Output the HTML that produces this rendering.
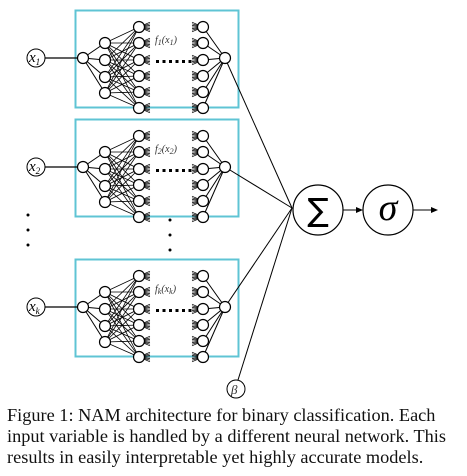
<!DOCTYPE html>
<html><head><meta charset="utf-8"><style>
body{margin:0;background:#fff;width:467px;height:476px;overflow:hidden}
svg{position:absolute;left:0;top:0}
.cap{position:absolute;left:7px;font-family:"Liberation Serif",serif;font-size:18.3px;color:#111;white-space:nowrap}
</style></head><body>
<svg id="s" width="467" height="476" xmlns="http://www.w3.org/2000/svg"></svg>
<div class="cap" style="top:405px">Figure 1: NAM architecture for binary classification. Each</div>
<div class="cap" style="top:426px">input variable is handled by a different neural network. This</div>
<div class="cap" style="top:447px">results in easily interpretable yet highly accurate models.</div>
<script>
var s=document.getElementById('s'),h='';
function L(a,b,c,d,w){h+='<line x1="'+a+'" y1="'+b+'" x2="'+c+'" y2="'+d+'" stroke="#000" stroke-width="'+(w||1)+'"/>';}
function C(x,y,r,w){h+='<circle cx="'+x+'" cy="'+y+'" r="'+r+'" fill="#fff" stroke="#000" stroke-width="'+(w||1.2)+'"/>';}
function T(x,y,t,sz,st){h+='<text x="'+x+'" y="'+y+'" font-family="Liberation Serif,serif" font-style="italic" font-size="'+sz+'" '+(st||'')+'>'+t+'</text>';}
var blocks=[[10,'f<tspan font-size="8" dy="2">1</tspan><tspan dy="-2">(x</tspan><tspan font-size="8" dy="2">1</tspan><tspan dy="-2">)</tspan>','1'],[119,'f<tspan font-size="8" dy="2">2</tspan><tspan dy="-2">(x</tspan><tspan font-size="8" dy="2">2</tspan><tspan dy="-2">)</tspan>','2'],[259,'f<tspan font-size="8" dy="2">k</tspan><tspan dy="-2">(x</tspan><tspan font-size="8" dy="2">k</tspan><tspan dy="-2">)</tspan>','k']];
blocks.forEach(function(b){
 var t=b[0],cy=t+48;
 h+='<rect x="75.5" y="'+(t+0.5)+'" width="163" height="97" fill="none" stroke="#5fc4d4" stroke-width="2"/>';
 var l2=[33,50,67,83].map(function(v){return t+v}),l3=[17,33,50,66,82,98].map(function(v){return t+v});
 L(45,cy,83,cy,1.2);
 l2.forEach(function(y){L(83,cy,105,y);l3.forEach(function(z){L(105,y,139,z,0.8)})});
 l3.forEach(function(z){for(var k=-3;k<=3;k++){L(139,z,150,z+k*1.6,0.7);L(192,z+k*1.6,203,z,0.7)}L(203,z,225,cy)});
 L(225,cy,292,208);
 C(83,cy,5.5);l2.forEach(function(y){C(105,y,5.5)});l3.forEach(function(z){C(139,z,5.5);C(203,z,5.5)});C(225,cy,5.5);
 for(var x=156;x<=190;x+=6.5)h+='<rect x="'+x+'" y="'+(t+50)+'" width="3" height="3"/>';
 T(155,t+33,b[1],10,'fill="#333"');
 C(36,cy,9,1);T(29,cy+4,'x<tspan font-size="9" dy="3">'+b[2]+'</tspan>',15);
});
[215,230,245].forEach(function(y){h+='<circle cx="28" cy="'+y+'" r="1.5"/><circle cx="170" cy="'+(y+5)+'" r="1.5"/>'});
L(238,380,292,208);
C(236,389,9,1);T(231,394,'β',13,'fill="#333"');
C(318,210,25,1.2);C(388,210,25,1.2);
h+='<text x="318" y="221" text-anchor="middle" font-family="DejaVu Sans,sans-serif" font-size="32">∑</text>';
h+='<text x="388" y="220" text-anchor="middle" font-family="Liberation Serif,serif" font-style="italic" font-size="38">σ</text>';
L(343,210,358,210);h+='<polygon points="363,210,356,207,356,213"/>';
L(413,210,433,210);h+='<polygon points="438,210,431,207,431,213"/>';
s.innerHTML=h;
</script>
</body></html>
